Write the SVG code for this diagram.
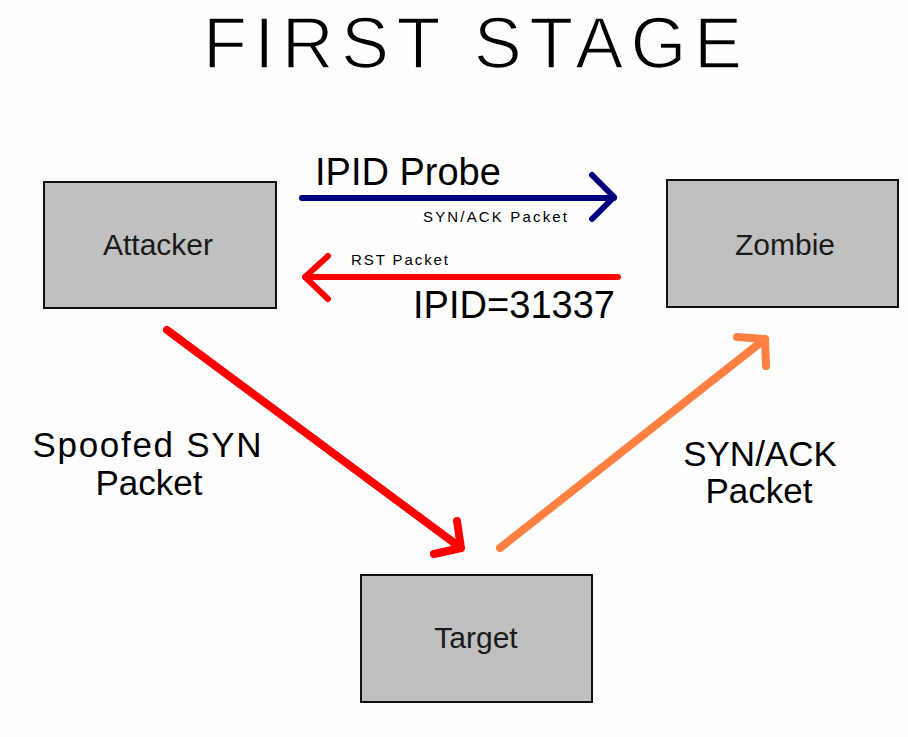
<svg xmlns="http://www.w3.org/2000/svg" width="908" height="737" viewBox="0 0 908 737">
  <style>
    .node rect { fill: #c0c0c0; stroke: #111; stroke-width: 2; }
    .node text { font-family: "Liberation Sans", Arial, sans-serif; font-size: 30px; fill: #1a1a1a; text-anchor: middle; }
    .lbl { font-family: "Liberation Sans", Arial, sans-serif; fill: #000; }
    .title { font-size: 72px; stroke: #fdfefd; stroke-width: 1.6; }
    .big { font-size: 38px; }
    .mid { font-size: 35px; text-anchor: middle; }
    .small { font-size: 15px; }
    .conn path { fill: none; stroke-linecap: round; stroke-linejoin: round; }
  </style>
  <rect width="908" height="737" fill="#fdfefd"/>

  <text class="lbl title" x="203" y="68" textLength="539" lengthAdjust="spacing">FIRST STAGE</text>

  <g id="attacker" class="node">
    <rect x="44" y="182" width="232" height="126"/>
    <text x="158" y="255">Attacker</text>
  </g>
  <g id="zombie" class="node">
    <rect x="667" y="180" width="231" height="127"/>
    <text x="785" y="255">Zombie</text>
  </g>
  <g id="target" class="node">
    <rect x="361" y="575" width="231" height="127"/>
    <text x="476" y="648">Target</text>
  </g>

  <g id="connectors" class="conn">
    <!-- probe: attacker to zombie -->
    <path d="M302 198 H614 M592 175 L614 197 L592 219" stroke="#00007f" stroke-width="6"/>
    <!-- reply: zombie to attacker -->
    <path d="M618 277 H305 M328 256 L305 277 L328 299" stroke="#ff0000" stroke-width="6"/>
    <!-- spoofed SYN: attacker to target -->
    <path d="M167 330 L461 548 M457 521 L461 548 L434 554" stroke="#ff0000" stroke-width="8"/>
    <!-- SYN/ACK: target to zombie -->
    <path d="M500 548 L765 339 M737 337 L765 339 L766 366" stroke="#ff8040" stroke-width="8"/>
  </g>

  <text class="lbl big" x="315" y="185">IPID Probe</text>
  <text class="lbl small" x="423" y="222" textLength="144" lengthAdjust="spacing">SYN/ACK Packet</text>
  <text class="lbl small" x="351" y="265" textLength="97" lengthAdjust="spacing">RST Packet</text>
  <text class="lbl big" x="413" y="318" textLength="202" lengthAdjust="spacing">IPID=31337</text>
  <text class="lbl mid" x="147" y="457" font-size="37" textLength="229" lengthAdjust="spacing">Spoofed SYN</text>
  <text class="lbl mid" x="149" y="495">Packet</text>
  <text class="lbl mid" x="760" y="466">SYN/ACK</text>
  <text class="lbl mid" x="759" y="503">Packet</text>
</svg>
